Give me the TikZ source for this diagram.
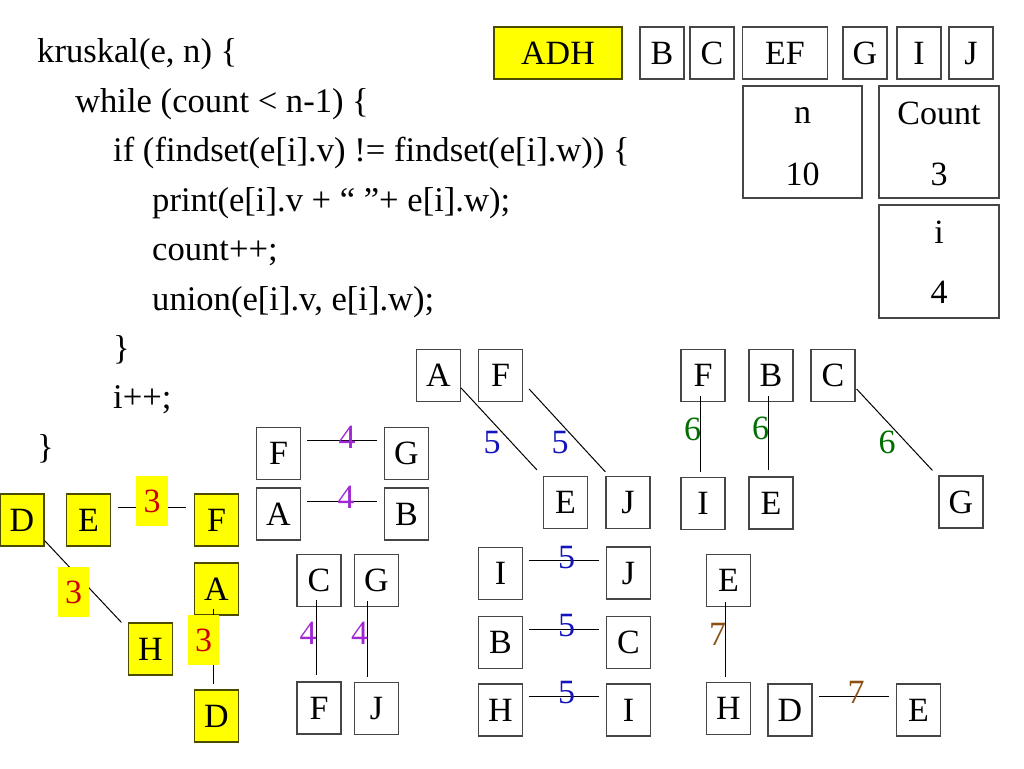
\documentclass[tikz,border=0pt]{standalone}
\usepackage{fontspec}
\setmainfont{Liberation Serif}
\usetikzlibrary{calc}
\definecolor{wred}{RGB}{204,0,0}
\definecolor{wpurple}{RGB}{160,40,210}
\definecolor{wblue}{RGB}{20,20,190}
\definecolor{wgreen}{RGB}{0,110,0}
\definecolor{wbrown}{RGB}{140,80,20}
\definecolor{boxline}{RGB}{70,70,70}
\definecolor{ybox}{RGB}{255,255,0}
\begin{document}
\begin{tikzpicture}[x=1pt,y=-1pt,
  every node/.style={font=\fontsize{34}{40}\selectfont, inner sep=0pt},
  vbox/.style={draw=boxline, line width=1.2pt, minimum width=44pt, minimum height=52pt, text height=22pt, text depth=0pt},
  yvbox/.style={vbox, fill=ybox, draw=black!70!ybox},
  valbox/.style={draw=boxline, line width=1.2pt, minimum width=120pt, minimum height=112pt},
  edge/.style={line width=1pt, black},
  wlab/.style={text height=23pt, text depth=0pt},
  ylab/.style={wlab, fill=ybox, text=wred, minimum width=31pt, minimum height=50pt},
  code/.style={anchor=base west, font=\fontsize{34.6}{40}\selectfont}
]
\useasboundingbox (0,0) rectangle (1024,768);
\fill[white] (0,0) rectangle (1024,768);

% code
\node[code] (c1) at (37,63) {kruskal(e, n) \{};
\node[code] (c2) at (75,112.4) {while (count \textless{} n-1) \{};
\node[code] (c3) at (113,161.8) {if (findset(e[i].v) != findset(e[i].w)) \{};
\node[code] (c4) at (152,211.2) {print(e[i].v + “ ”+ e[i].w);};
\node[code] (c5) at (152,260.6) {count++;};
\node[code] (c6) at (152,310) {union(e[i].v, e[i].w);};
\node[code] (c7) at (113,359.4) {\}};
\node[code] (c8) at (113,408.8) {i++;};
\node[code] (c9) at (37,458.2) {\}};

% top set row
\node[yvbox, minimum width=128pt] (sADH) at (558,53) {ADH};
\node[vbox] (sB) at (662,53) {B};
\node[vbox] (sC) at (712,53) {C};
\node[vbox, minimum width=85pt] (sEF) at (785,53) {EF};
\node[vbox] (sG) at (865,53) {G};
\node[vbox] (sI) at (919,53) {I};
\node[vbox] (sJ) at (971,53) {J};

% value boxes
\node[valbox, minimum width=119pt] (nbox) at (802.5,142) {};
\node[anchor=base] (ntxt) at (802.5,123) {n};
\node[anchor=base] (nval) at (802.5,185) {10};
\node[valbox] (cbox) at (939,142) {};
\node[anchor=base] (ctxt) at (939,124) {Count};
\node[anchor=base] (cval) at (939,185) {3};
\node[valbox, minimum height=113pt] (ibox) at (939,261.5) {};
\node[anchor=base] (itxt) at (939,243) {i};
\node[anchor=base] (ival) at (939,303) {4};

% left yellow tree
\node[yvbox] (D1) at (22,520) {D};
\node[yvbox] (E1) at (88.5,520) {E};
\node[yvbox] (F1) at (216.5,520) {F};
\node[yvbox] (A1) at (216.5,589) {A};
\node[yvbox] (H1) at (150.5,649) {H};
\node[yvbox] (D2) at (216.5,716) {D};
\draw[edge] ($(E1.east)+(6.5,-13)$) -- ($(F1.west)+(-7.5,-13)$);
\draw[edge] ($(D1.south east)+(0,-6)$) -- ($(H1.north west)+(-6.5,0)$);
\draw[edge] ($(A1.south)+(-3.5,-7)$) -- ($(D2.north)+(-3.5,-5)$);
\node[ylab, minimum width=32pt] (y1) at (152,501) {3};
\node[ylab] (y2) at (73.5,592) {3};
\node[ylab] (y3) at (203.5,639.5) {3};

% weight 4 edges
\node[vbox] (F2) at (278.5,453.5) {F};
\node[vbox] (G2) at (406.5,453.5) {G};
\node[vbox] (A2) at (278.5,514) {A};
\node[vbox] (B2) at (406.5,514) {B};
\draw[edge] ($(F2.east)+(6,-13.5)$) -- ($(G2.west)+(-7,-13.5)$);
\draw[edge] ($(A2.east)+(6,-13)$) -- ($(B2.west)+(-7,-13)$);
\node[wlab, text=wpurple] (w4a) at (347,436.5) {4};
\node[wlab, text=wpurple] (w4b) at (346,496.5) {4};

\node[vbox] (C3) at (319,580.5) {C};
\node[vbox] (G3) at (376.5,580.5) {G};
\node[vbox] (F3) at (319,708) {F};
\node[vbox] (J3) at (376.5,708.5) {J};
\draw[edge] ($(C3.south)+(-3,-7)$) -- ($(F3.north)+(-3,-6)$);
\draw[edge] ($(G3.south)+(-9.5,-6)$) -- ($(J3.north)+(-9.5,-5)$);
\node[wlab, text=wpurple] (w4c) at (308,633) {4};
\node[wlab, text=wpurple] (w4d) at (359.5,633) {4};

% weight 5 edges
\node[vbox] (mA) at (438.5,375.5) {A};
\node[vbox] (mF) at (500.5,375.5) {F};
\node[vbox] (mE) at (565.5,502.5) {E};
\node[vbox] (mJ) at (628,502.5) {J};
\draw[edge] ($(mA.east)+(0,12.5)$) -- ($(mE.north west)+(-6,-6)$);
\draw[edge] ($(mF.east)+(6,13.5)$) -- ($(mJ.north west)+(0,-4)$);
\node[wlab, text=wblue] (w5a) at (492,442) {5};
\node[wlab, text=wblue] (w5b) at (560,442) {5};

\node[vbox] (I4) at (500.5,573.5) {I};
\node[vbox] (J4) at (628.5,573) {J};
\node[vbox] (B4) at (500.5,642.5) {B};
\node[vbox] (C4) at (628.5,642.5) {C};
\node[vbox] (H4) at (500.5,710) {H};
\node[vbox] (I5) at (628.5,710) {I};
\draw[edge] ($(I4.east)+(6,-13.5)$) -- ($(J4.west)+(-7,-13)$);
\draw[edge] ($(B4.east)+(6,-13.5)$) -- ($(C4.west)+(-7,-13.5)$);
\draw[edge] ($(H4.east)+(6,-14)$) -- ($(I5.west)+(-7,-14)$);
\node[wlab, text=wblue] (w5c) at (566.5,556.5) {5};
\node[wlab, text=wblue] (w5d) at (566.5,625) {5};
\node[wlab, text=wblue] (w5e) at (566.5,691.5) {5};

% weight 6 edges
\node[vbox] (rF) at (703,375.5) {F};
\node[vbox] (rB) at (771,375.5) {B};
\node[vbox] (rC) at (833,375.5) {C};
\node[vbox] (rI) at (703,503.5) {I};
\node[vbox] (rE) at (771,503) {E};
\node[vbox] (rG) at (961,502) {G};
\draw[edge] ($(rF.south)+(-3,-6)$) -- ($(rI.north)+(-3,-5)$);
\draw[edge] ($(rB.south)+(-3,-6)$) -- ($(rE.north)+(-3,-6)$);
\draw[edge] ($(rC.east)+(1,13.5)$) -- ($(rG.north west)+(-6,-5)$);
\node[wlab, text=wgreen] (w6a) at (692.5,429) {6};
\node[wlab, text=wgreen] (w6b) at (760.5,428) {6};
\node[wlab, text=wgreen] (w6c) at (887,441.5) {6};

% weight 7 edges
\node[vbox] (rE2) at (728.5,580.5) {E};
\node[vbox] (rH) at (728.5,708.5) {H};
\node[vbox] (rD) at (790,710) {D};
\node[vbox] (rE3) at (918.5,710) {E};
\draw[edge] ($(rE2.south)+(-3.5,-5)$) -- ($(rH.north)+(-3.5,-5)$);
\draw[edge] ($(rD.east)+(6,-14)$) -- ($(rE3.west)+(-7,-14)$);
\node[wlab, text=wbrown] (w7a) at (717.5,633.5) {7};
\node[wlab, text=wbrown] (w7b) at (856,692) {7};
\end{tikzpicture}
\end{document}
